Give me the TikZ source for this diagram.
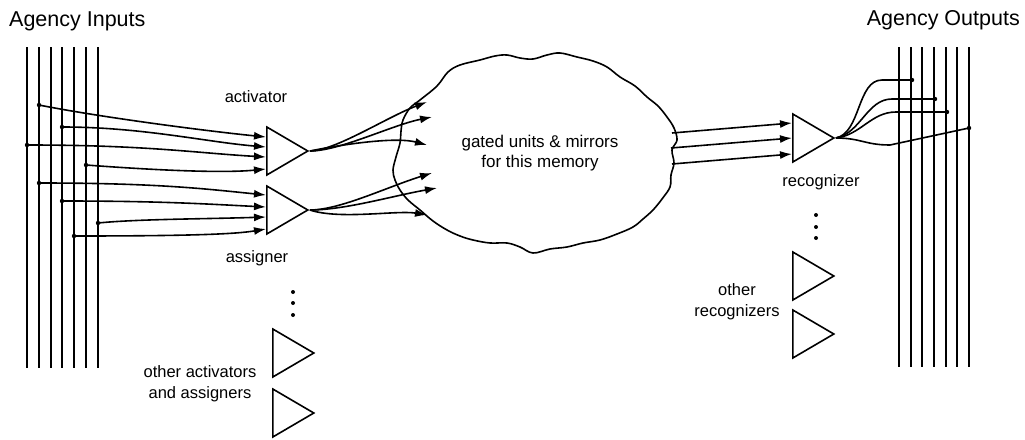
\documentclass[tikz,border=0pt]{standalone}
\usepackage{fontspec}
\setmainfont{Liberation Sans}
\usetikzlibrary{arrows.meta,shapes.geometric}

\tikzset{
  unit/.style={draw, line width=1.6pt, isosceles triangle, isosceles triangle stretches,
    minimum width=48pt, minimum height=41pt, inner sep=0pt, anchor=lower side},
  lbl/.style={font=\fontsize{16.5}{21}\selectfont, align=center, inner sep=0pt},
  hdr/.style={font=\fontsize{21.5}{24}\selectfont, inner sep=0pt},
  wire/.style={line width=1.6pt},
  sig/.style={line width=1.6pt, -{Latex[length=12pt,width=8pt]}},
}

\begin{document}
\begin{tikzpicture}[x=1pt,y=-1pt]
  \useasboundingbox (0,0) rectangle (1025,439);

  \node[hdr, anchor=base west] (hin) at (9,27) {Agency Inputs};
  \node[hdr, anchor=base east] (hout) at (1020,25) {Agency Outputs};

  \foreach \x in {27,39,51,62,74,86,98}
    \draw[wire] (\x,47) -- (\x,368);
  \foreach \x in {899,911,922,934,946,957,969}
    \draw[wire] (\x,47) -- (\x,367);

  \node[unit] (act) at (266,151) {};
  \node[unit] (asg) at (266,210) {};
  \node[unit] (oact1) at (272,353) {};
  \node[unit] (oact2) at (272,413) {};
  \node[unit] (rec) at (792,138) {};
  \node[unit] (orec1) at (792,276) {};
  \node[unit] (orec2) at (792,334) {};

  \node[lbl] (actl) at (256,97) {activator};
  \node[lbl] (asgl) at (257,258) {assigner};
  \node[lbl] (oactl) at (200,384) {other activators\\and assigners};
  \node[lbl] (recl) at (821,182) {recognizer};
  \node[lbl] (orecl) at (737,302) {other\\recognizers};

  \fill (293,292) circle (2pt) (293,303) circle (2pt) (293,315) circle (2pt);
  \fill (816,215) circle (2pt) (816,227) circle (2pt) (816,238) circle (2pt);

  % memory cloud
  \draw[line width=1.6pt] plot[smooth cycle, tension=0.6] coordinates {
    (420,100) (437,86) (448,72) (460,65) (480,60) (495,56) (507,55) (520,58)
    (533,59) (547,55) (560,53) (577,57) (593,61) (607,67) (620,77) (635,86)
    (647,97) (658,106) (667,117) (674,128) (677,140) (672,150) (674,163)
    (671,175) (670,187) (662,199) (653,210) (643,219) (633,227) (617,234)
    (600,240) (583,243) (567,247) (550,249) (533,253) (520,247) (507,243)
    (490,243) (473,240) (460,236) (447,230) (433,221) (420,210) (408,200)
    (400,190) (395,180) (393,170) (396,157) (400,143) (401,131) (403,120)
    (410,108)};
  \node[lbl, font=\fontsize{17}{20}\selectfont] (mem) at (540,153) {gated units \& mirrors\\for this memory};

  % inputs
  \coordinate (i1) at (39,105);
  \coordinate (i2) at (62,127);
  \coordinate (i3) at (27,145);
  \coordinate (i4) at (86,165);
  \coordinate (i5) at (39,183);
  \coordinate (i6) at (62,201);
  \coordinate (i7) at (98,223);
  \coordinate (i8) at (74,236);
  \foreach \c in {i1,i2,i3,i4,i5,i6,i7,i8}
    \fill (\c) circle (2.2pt);
  \draw[sig] (i1) .. controls +(60,12) and +(-60,-6) .. ([yshift=14pt]act.lower side);
  \draw[sig] (i2) .. controls +(80,0) and +(-60,-5) .. ([yshift=4pt]act.lower side);
  \draw[sig] (i3) .. controls +(120,0) and +(-70,-4) .. ([yshift=-6pt]act.lower side);
  \draw[sig] (i4) .. controls +(80,6) and +(-40,4) .. ([yshift=-18pt]act.lower side);
  \draw[sig] (i5) .. controls +(120,0) and +(-60,-6) .. ([yshift=15pt]asg.lower side);
  \draw[sig] (i6) .. controls +(100,0) and +(-60,-3) .. ([yshift=3pt]asg.lower side);
  \draw[sig] (i7) .. controls +(40,-4) and +(-60,2) .. ([yshift=-7pt]asg.lower side);
  \draw[sig] (i8) .. controls +(120,0) and +(-30,5) .. ([yshift=-19pt]asg.lower side);

  % into the memory
  \coordinate (g1) at (427,102);
  \coordinate (g2) at (432,117);
  \coordinate (g3) at (427,145);
  \coordinate (g4) at (432,173);
  \coordinate (g5) at (437,188);
  \coordinate (g6) at (427,215);
  \draw[sig] (act.apex) .. controls +(25,0) and +(-40,15) .. (g1);
  \draw[sig] (act.apex) .. controls +(30,0) and +(-40,8) .. (g2);
  \draw[sig] (act.apex) .. controls +(40,-8) and +(-30,-8) .. (g3);
  \draw[sig] (asg.apex) .. controls +(30,0) and +(-45,14) .. (g4);
  \draw[sig] (asg.apex) .. controls +(35,0) and +(-45,8) .. (g5);
  \draw[sig] (asg.apex) .. controls +(30,10) and +(-30,-5) .. (g6);

  % out of the memory
  \coordinate (m1) at (672,133);
  \coordinate (m2) at (671,148);
  \coordinate (m3) at (672,164);
  \draw[sig] (m1) -- ([yshift=15pt]rec.lower side);
  \draw[sig] (m2) -- (rec.lower side);
  \draw[sig] (m3) -- ([yshift=-16pt]rec.lower side);

  % outputs
  \coordinate (o1) at (912,80);
  \coordinate (o2) at (935,99);
  \coordinate (o3) at (947,112);
  \coordinate (o4) at (969,128);
  \draw[wire] (rec.apex) .. controls +(25,-5) and +(-25,0) .. (882,80) -- (o1);
  \draw[wire] (rec.apex) .. controls +(25,-5) and +(-25,0) .. (892,99) -- (o2);
  \draw[wire] (rec.apex) .. controls +(25,-3) and +(-25,0) .. (896,112) -- (o3);
  \draw[wire] (rec.apex) .. controls +(25,0) and +(-25,0) .. (890,145) -- (o4);
  \foreach \c in {o1,o2,o3,o4}
    \fill (\c) circle (2.2pt);
\end{tikzpicture}
\end{document}
